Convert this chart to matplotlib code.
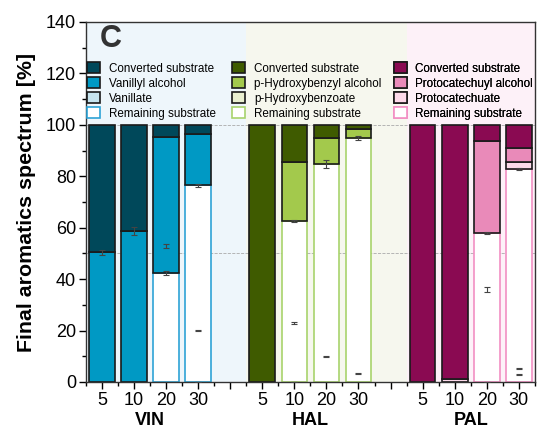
import numpy as np
import matplotlib.pyplot as plt
from matplotlib.patches import Patch
from matplotlib.ticker import MultipleLocator

plt.rcParams['font.family'] = ['Liberation Sans', 'DejaVu Sans']

groups = ['VIN', 'HAL', 'PAL']
times = ['5', '10', '20', '30']

# rows: VIN, HAL, PAL ; columns: 5, 10, 20, 30
remaining = [[0, 0, 42.5, 76.5],
             [0, 62.6, 84.8, 94.9],
             [0, 0, 57.8, 82.8]]
acid = [[0, 0, 0, 0],
        [0, 0, 0, 0],
        [0, 1.0, 0, 2.9]]
alcohol = [[50.4, 58.7, 52.8, 20.0],
           [0, 23.1, 10.0, 3.4],
           [0, 0, 36.1, 5.4]]
converted = [[49.6, 41.3, 4.7, 3.5],
             [100, 14.3, 5.2, 1.7],
             [100, 99.0, 6.1, 8.9]]

remaining_err = [[np.nan, np.nan, 0.8, 0.6],
                 [np.nan, 0.4, 1.5, 0.6],
                 [np.nan, np.nan, 0.4, 0.4]]
alcohol_err = [[1.0, 1.5, 0.8, 0.2],
               [np.nan, 0.4, 0.3, 0.2],
               [np.nan, np.nan, 1.0, 0.2]]
acid_err = [[np.nan, np.nan, np.nan, 0.1],
            [np.nan, 0.1, np.nan, np.nan],
            [np.nan, np.nan, 0.1, 0.2]]

legend_labels = [['Converted substrate', 'Vanillyl alcohol', 'Vanillate', 'Remaining substrate'],
                 ['Converted substrate', 'p-Hydroxybenzyl alcohol', 'p-Hydroxybenzoate', 'Remaining substrate'],
                 ['Converted substrate', 'Protocatechuyl alcohol', 'Protocatechuate', 'Remaining substrate']]

# colours: converted, alcohol, acid, remaining edge, background
dark_c = ['#00485a', '#3f5b00', '#8a0a52']
alc_c = ['#0099c4', '#a3c94c', '#e98ab9']
acid_c = ['#c6e4ef', '#e9efd0', '#fcd9e9']
rem_c = ['#2ea3d6', '#a8d36c', '#f28fc3']
bg_c = ['#eef6fb', '#f6f7ee', '#fdf1f8']

fig = plt.figure(figsize=(5.37, 4.28), dpi=100)
ax = fig.add_axes([0.160, 0.1075, 0.836, 0.8411])

w = 0.8
for g in range(3):
    x = np.arange(4) + g * 5
    ax.axvspan(g * 5 - 0.5, g * 5 + 4.5, color=bg_c[g], zorder=0, lw=0)
    rem = np.array(remaining[g], float)
    ac = np.array(acid[g], float)
    al = np.array(alcohol[g], float)
    cv = np.array(converted[g], float)
    m = rem > 0
    ax.bar(x[m], rem[m], w, color='white', edgecolor=rem_c[g], lw=1.2, zorder=2)
    b = rem
    m = ac > 0
    ax.bar(x[m], ac[m], w, bottom=b[m], color=acid_c[g], edgecolor='#1a1a1a', lw=1.2, zorder=2)
    b = b + ac
    m = al > 0
    ax.bar(x[m], al[m], w, bottom=b[m], color=alc_c[g], edgecolor='#1a1a1a', lw=1.2, zorder=2)
    b = b + al
    m = cv > 0
    ax.bar(x[m], cv[m], w, bottom=b[m], color=dark_c[g], edgecolor='#1a1a1a', lw=1.2, zorder=2)

    for vals, errs in [(rem, remaining_err[g]), (al, alcohol_err[g]), (ac, acid_err[g])]:
        ax.errorbar(x, vals, yerr=np.array(errs, float), fmt='none', ecolor='#444444',
                    elinewidth=0.8, capsize=2.5, capthick=0.8, zorder=3)

    handles = [Patch(facecolor=dark_c[g], edgecolor='#1a1a1a', lw=1.2),
               Patch(facecolor=alc_c[g], edgecolor='#1a1a1a', lw=1.2),
               Patch(facecolor=acid_c[g], edgecolor='#1a1a1a', lw=1.2),
               Patch(facecolor='white', edgecolor=rem_c[g], lw=1.2)]
    lx = [0.003, 0.326, 0.686][g]
    leg = ax.legend(handles, legend_labels[g], loc='upper left', bbox_to_anchor=(lx, 0.888),
                    frameon=False, fontsize=8.4, borderpad=0, borderaxespad=0,
                    handlelength=1.1, handleheight=1.05, handletextpad=0.75, labelspacing=0.22)
    ax.add_artist(leg)

ax.axhline(100, color='#aaaaaa', ls='--', lw=0.6, zorder=1)
ax.axhline(50, color='#aaaaaa', ls='--', lw=0.6, zorder=1)

ax.set_xlim(-0.5, 13.5)
ax.set_ylim(0, 140)
ax.set_xticks(np.arange(14))
ax.set_xticklabels(times + [''] + times + [''] + times, fontsize=13)
ax.xaxis.set_minor_locator(MultipleLocator(0.5))
ax.yaxis.set_major_locator(MultipleLocator(20))
ax.yaxis.set_minor_locator(MultipleLocator(10))
ax.tick_params(axis='both', which='major', direction='out', length=5, width=1, labelsize=13, pad=2)
ax.tick_params(axis='both', which='minor', direction='out', length=3, width=1)
for s in ax.spines.values():
    s.set_color('#333333')
    s.set_linewidth(1)

for g in range(3):
    ax.text(g * 5 + 1.5, -0.083, groups[g], transform=ax.get_xaxis_transform(),
            ha='center', va='top', fontsize=13, fontweight='bold')

ax.text(0.03, 0.912, 'C', transform=ax.transAxes, fontsize=22, fontweight='bold',
        color='#333333', ha='left', va='bottom')
ax.set_ylabel('Final aromatics spectrum [%]', fontsize=15.4, fontweight='bold', labelpad=7)

fig.savefig('out.png', dpi=100)
